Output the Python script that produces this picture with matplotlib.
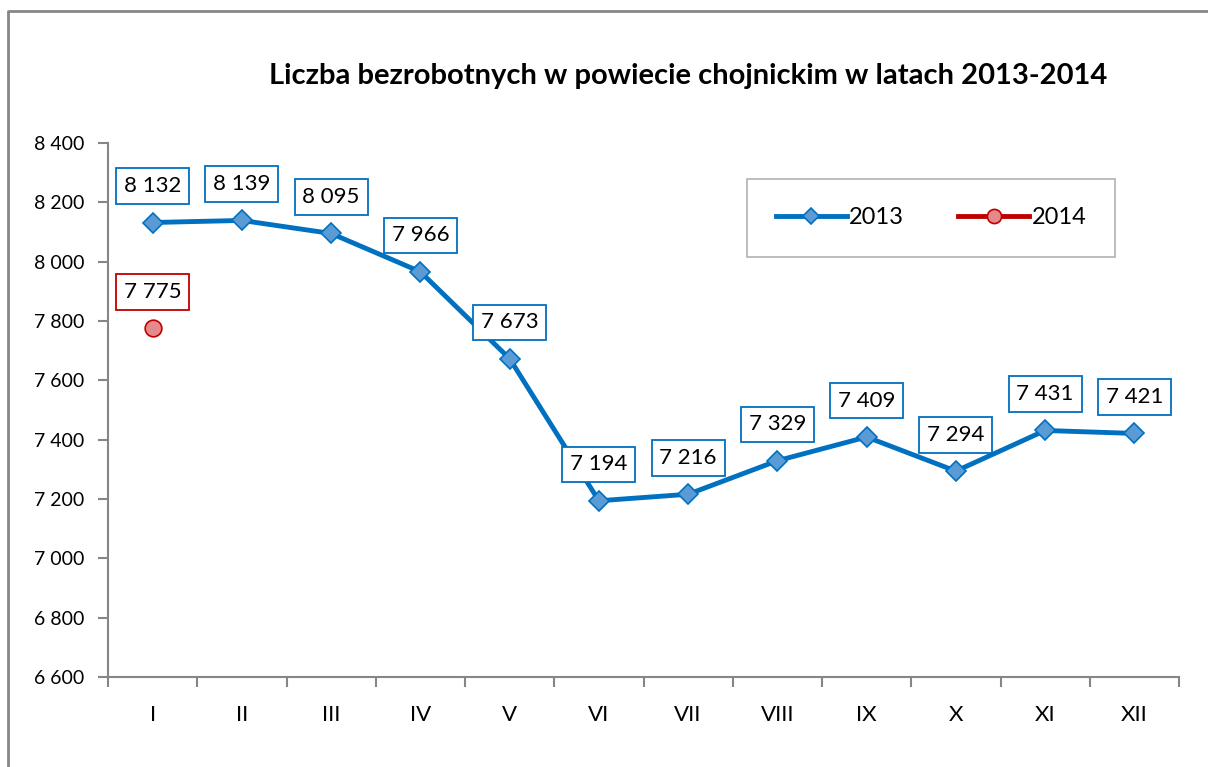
import matplotlib.pyplot as plt
from matplotlib.lines import Line2D

# Data
months = ["I", "II", "III", "IV", "V", "VI", "VII", "VIII", "IX", "X", "XI", "XII"]
values_2013 = [8132, 8139, 8095, 7966, 7673, 7194, 7216, 7329, 7409, 7294, 7431, 7421]
values_2014 = [7775]

blue = "#0070c0"
red = "#c00000"

plt.rcParams["font.family"] = ["Lato", "DejaVu Sans"]


def fmt(v):
    return f"{v:,}".replace(",", " ")


fig = plt.figure(figsize=(12.08, 7.67), dpi=100)
ax = fig.add_axes([108 / 1208, 1 - 677 / 767, (1179 - 108) / 1208, (677 - 143) / 767])

x13 = list(range(len(values_2013)))
x14 = list(range(len(values_2014)))

ax.plot(x13, values_2013, color=blue, lw=3.5, marker="D", ms=10,
        mfc="#5b9bd5", mec=blue, mew=1.2, label="2013", zorder=3)
ax.plot(x14, values_2014, color=red, lw=3.5, marker="o", ms=12,
        mfc="#e6898c", mec=red, mew=1.2, label="2014", zorder=3)

# Data labels in boxes
for x, v in zip(x13, values_2013):
    ax.annotate(fmt(v), (x, v), xytext=(0, 19), textcoords="offset points",
                ha="center", va="bottom", fontsize=16,
                bbox=dict(boxstyle="square,pad=0.35", fc="white", ec=blue, lw=1.3), zorder=4)
for x, v in zip(x14, values_2014):
    ax.annotate(fmt(v), (x, v), xytext=(0, 19), textcoords="offset points",
                ha="center", va="bottom", fontsize=16,
                bbox=dict(boxstyle="square,pad=0.35", fc="white", ec=red, lw=1.3), zorder=4)

ax.set_xlim(-0.5, len(months) - 0.5)
ax.set_ylim(6600, 8400)
ax.set_yticks(range(6600, 8401, 200))
ax.set_yticklabels([fmt(v) for v in range(6600, 8401, 200)], fontsize=14)
ax.set_xticks(x13)
ax.set_xticklabels(months, fontsize=16)
ax.set_xticks([i - 0.5 for i in range(len(months) + 1)], minor=True)
ax.tick_params(axis="x", which="major", length=0, pad=20)
ax.tick_params(axis="x", which="minor", length=7, color="#868686", width=1.5)
ax.tick_params(axis="y", length=7, color="#868686", width=1.5, pad=10)

for s in ["top", "right"]:
    ax.spines[s].set_visible(False)
for s in ["left", "bottom"]:
    ax.spines[s].set_color("#868686")
    ax.spines[s].set_linewidth(1.5)

leg = fig.legend(loc="center", bbox_to_anchor=(931 / 1208, 1 - 218 / 767), ncol=2,
                 fontsize=17, frameon=True, fancybox=False, edgecolor="#a6a6a6",
                 borderpad=1.2, handlelength=3.0, columnspacing=2.3, handletextpad=0.1,
                 borderaxespad=0, markerscale=0.85)
leg.get_frame().set_linewidth(1.3)

fig.text(688 / 1208, 1 - 76 / 767, "Liczba bezrobotnych w powiecie chojnickim w latach 2013-2014",
         ha="center", va="center", fontsize=21, fontweight="bold")

# Outer frame (left and top edges visible)
fig.add_artist(Line2D([8 / 1208, 8 / 1208, 1.0], [0.0, 1 - 11 / 767, 1 - 11 / 767],
                      transform=fig.transFigure, color="#868686", lw=2))

fig.savefig("out.png", dpi=100)
